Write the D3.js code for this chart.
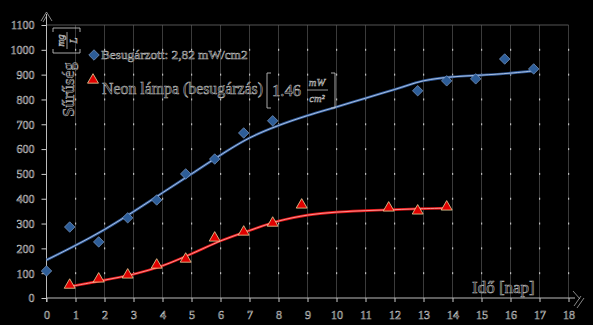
<!DOCTYPE html>
<html>
<head>
<meta charset="utf-8">
<script src="https://cdn.jsdelivr.net/npm/d3@7"></script>
<style>
body { margin: 0; background: #000; }
svg { display: block; }
.ol { fill: #0a0a0a; stroke: #bdbdbd; stroke-width: 0.55px; }
</style>
</head>
<body>
<script>
"use strict";
// measured points
const blueX = [0, 0.8, 1.8, 2.8, 3.8, 4.8, 5.8, 6.8, 7.8, 12.8, 13.8, 14.8, 15.8, 16.8];
const blueY = [109, 286, 226, 323, 395, 500, 560, 665, 714, 835, 875, 883, 963, 923];
const redX = [0.8, 1.8, 2.8, 3.8, 4.8, 5.8, 6.8, 7.8, 8.8, 11.8, 12.8, 13.8];
const redY = [52, 77, 93, 133, 157, 242, 266, 302, 375, 363, 351, 367];
// trend lines
const blueTrendX = [0, 1, 2, 3, 4, 5, 6, 7, 8, 9, 10, 11, 12, 13, 14, 15, 16, 16.8];
const blueTrendY = [153, 212, 276, 348, 424, 500, 576, 645, 695, 735, 770, 805, 840, 875, 891, 898, 906, 915];
const redTrendX = [0.8, 2, 3, 4, 5, 6, 7, 8, 9, 10, 11, 12, 13, 13.8];
const redTrendY = [46, 72, 96, 130, 178, 230, 272, 310, 334, 346, 352, 356, 360, 362];
const xTicks = d3.range(0, 19);
const yTicks = d3.range(0, 1101, 100);

const W = 593, H = 325;
const x = d3.scaleLinear().domain([0, 18]).range([46.5, 568.5]);
const y = d3.scaleLinear().domain([0, 1100]).range([298, 25]);

const svg = d3.select("body").append("svg").attr("width", W).attr("height", H);
svg.append("rect").attr("width", W).attr("height", H).attr("fill", "#000");

// grid
svg.append("g").selectAll("line").data(xTicks.slice(1)).enter().append("line")
	.attr("x1", d => x(d)).attr("x2", d => x(d)).attr("y1", y(1100)).attr("y2", y(0))
	.attr("stroke", "#4a4a4a").attr("stroke-width", 0.8);
svg.append("line").attr("x1", x(0)).attr("x2", x(18)).attr("y1", y(1100)).attr("y2", y(1100))
	.attr("stroke", "#6a6a6a").attr("stroke-width", 0.8);
const dots = [];
xTicks.slice(1).forEach(a => yTicks.slice(1, -1).forEach(b => dots.push([a, b])));
svg.append("g").selectAll("rect").data(dots).enter().append("rect")
	.attr("x", d => x(d[0]) - 0.5).attr("y", d => y(d[1]) - 1).attr("width", 1.2).attr("height", 2)
	.attr("fill", "#bbb");

// axes
const xAxis = d3.axisBottom(x).tickValues(xTicks).tickSize(4).tickPadding(8);
const gx = svg.append("g").attr("transform", "translate(0," + y(0) + ")").call(xAxis);
const yAxis = d3.axisLeft(y).tickValues(yTicks).tickFormat(d3.format("d")).tickSize(5).tickPadding(7);
const gy = svg.append("g").attr("transform", "translate(" + x(0) + ",0)").call(yAxis);
[gx, gy].forEach(g => {
	g.select(".domain").remove();
	g.selectAll(".tick line").attr("stroke", "#ccc");
	g.selectAll(".tick text").attr("class", "ol")
		.style("font-family", "Liberation Serif").style("font-size", "12px");
});
svg.append("line").attr("x1", x(0)).attr("x2", 575).attr("y1", y(0)).attr("y2", y(0))
	.attr("stroke", "#bbb").attr("stroke-width", 1);
svg.append("line").attr("x1", x(0)).attr("x2", x(0)).attr("y1", y(0) + 4).attr("y2", 14)
	.attr("stroke", "#bbb").attr("stroke-width", 1);
// arrow and break marks
svg.append("path").attr("d", "M41,21 L46.5,12 L52,21 M43,22 L46.5,16").attr("fill", "none")
	.attr("stroke", "#aaa").attr("stroke-width", 0.8);
svg.append("path").attr("d", "M574,306 L581,296 M577,308 L584,298 M573,291 L580,299").attr("fill", "none")
	.attr("stroke", "#aaa").attr("stroke-width", 0.8);

// trend lines
function trend(xs, ys, col, hi) {
	const pts = xs.map((d, i) => [d, ys[i]]);
	const line = d3.line().x(d => x(d[0])).y(d => y(d[1])).curve(d3.curveCatmullRom);
	svg.append("path").attr("d", line(pts)).attr("fill", "none").attr("stroke", col).attr("stroke-width", 2.6);
	svg.append("path").attr("d", line(pts)).attr("fill", "none").attr("stroke", hi).attr("stroke-width", 0.8);
}
trend(blueTrendX, blueTrendY, "#2f5a9a", "#c9d8f0");
trend(redTrendX, redTrendY, "#e41414", "#ffb0b0");

// markers
const diamond = d3.symbol().type(d3.symbolDiamond2).size(70);
const tri = d3.symbol().type(d3.symbolTriangle).size(52);
svg.append("g").selectAll("path").data(blueX).enter().append("path")
	.attr("d", diamond).attr("transform", (d, i) => "translate(" + x(d) + "," + y(blueY[i]) + ")")
	.attr("fill", "#2d5d98").attr("stroke", "#7f9cc6").attr("stroke-width", 0.7);
svg.append("g").selectAll("path").data(redX).enter().append("path")
	.attr("d", tri).attr("transform", (d, i) => "translate(" + x(d) + "," + y(redY[i]) + ")")
	.attr("fill", "#e00000").attr("stroke", "#e8d49a").attr("stroke-width", 0.8);

// legend
svg.append("path").attr("d", diamond).attr("transform", "translate(94,55)")
	.attr("fill", "#2d5d98").attr("stroke", "#7f9cc6").attr("stroke-width", 0.7);
svg.append("text").attr("class", "ol").attr("x", 101).attr("y", 59)
	.style("font-family", "Liberation Serif").style("font-size", "13.3px")
	.text("Besugárzott: 2,82 mW/cm2");
svg.append("path").attr("d", tri).attr("transform", "translate(93,80)")
	.attr("fill", "#e00000").attr("stroke", "#e8d49a").attr("stroke-width", 0.8);
const lg = svg.append("g").style("font-family", "Liberation Serif");
lg.append("text").attr("class", "ol").attr("x", 102).attr("y", 94).style("font-size", "15.8px")
	.attr("textLength", 161).text("Neon lámpa (besugárzás)");
lg.append("path").attr("d", "M271,73 L267,73 L267,108 L271,108 M331,73 L335,73 L335,108 L331,108")
	.attr("fill", "none").attr("stroke", "#bbb").attr("stroke-width", 0.9);
lg.append("text").attr("class", "ol").attr("x", 272).attr("y", 96).style("font-size", "16.5px").text("1.46");
lg.append("text").attr("class", "ol").attr("x", 317).attr("y", 86).attr("text-anchor", "middle")
	.style("font-size", "10.5px").style("font-style", "italic").text("mW");
lg.append("line").attr("x1", 307).attr("x2", 328).attr("y1", 90).attr("y2", 90).attr("stroke", "#bbb").attr("stroke-width", 0.8);
lg.append("text").attr("class", "ol").attr("x", 317).attr("y", 102).attr("text-anchor", "middle")
	.style("font-size", "10.5px").style("font-style", "italic").text("cm²");

// axis titles
svg.append("text").attr("class", "ol").attr("x", 472).attr("y", 293)
	.style("font-family", "Liberation Serif").style("font-size", "17px").text("Idő [nap]");
const yt = svg.append("g").style("font-family", "Liberation Serif");
yt.append("text").attr("class", "ol").attr("transform", "translate(74,117) rotate(-90)")
	.style("font-size", "17px").text("Sűrűség");
yt.append("path").attr("d", "M53,49 L53,53 L80,53 L80,49 M53,32 L53,28 L80,28 L80,32")
	.attr("fill", "none").attr("stroke", "#bbb").attr("stroke-width", 0.9);
yt.append("line").attr("x1", 67).attr("x2", 67).attr("y1", 32).attr("y2", 49).attr("stroke", "#bbb").attr("stroke-width", 0.8);
yt.append("text").attr("class", "ol").attr("transform", "translate(64,40.5) rotate(-90)").attr("text-anchor", "middle")
	.style("font-size", "10px").style("font-style", "italic").text("mg");
yt.append("text").attr("class", "ol").attr("transform", "translate(77,40.5) rotate(-90)").attr("text-anchor", "middle")
	.style("font-size", "10px").style("font-style", "italic").text("L");
</script>
</body>
</html>
